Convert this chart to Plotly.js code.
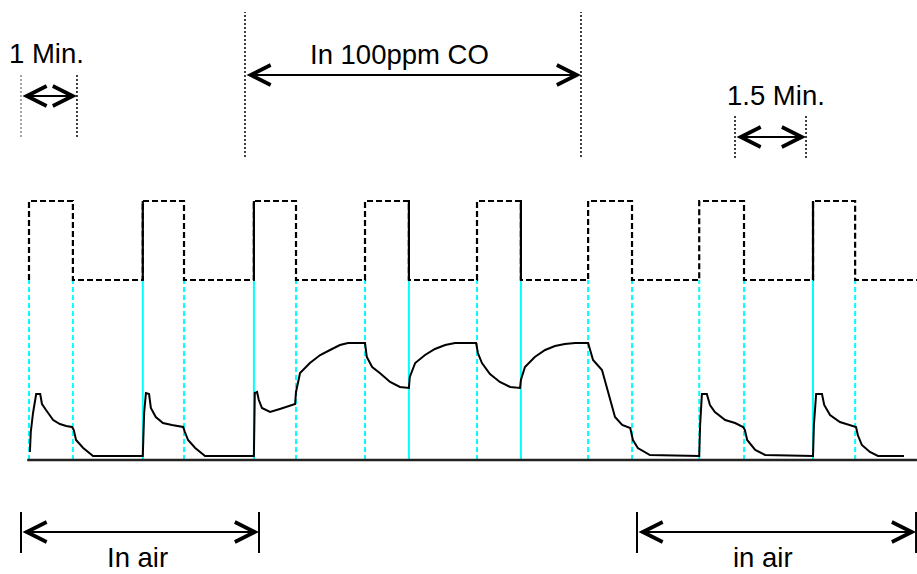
<!DOCTYPE html>
<html>
<head>
<meta charset="utf-8">
<script src="https://cdn.plot.ly/plotly-3.0.1.min.js"></script>
<style>html,body{margin:0;padding:0;background:#fff}#chart{width:917px;height:574px}</style>
</head>
<body>
<div id="chart"></div>
<script>
// Time in minutes, signals in arbitrary units
var heaterHigh = 2.59;
var heaterLow = 1.80;
var riseT = [0, 2.54, 5.02, 7.5, 10.0, 12.48, 14.96, 17.5];
var fallT = [0.98, 3.46, 5.96, 8.48, 10.98, 13.46, 15.96, 18.44];
var endT = 19.82;
var solidEdgeT = [2.54, 5.02, 8.48, 10.98, 17.5];

var sensorT = [0.02,0.04,0.09,0.16,0.25,0.29,0.38,0.54,0.69,0.83,0.96,1.00,1.05,1.21,1.43,2.54,
  2.57,2.61,2.68,2.72,2.83,2.99,3.19,3.44,3.48,3.55,3.71,3.93,5.02,
  5.04,5.09,5.13,5.20,5.38,5.60,5.94,5.96,6.05,6.27,6.50,6.72,6.94,7.12,7.50,
  7.54,7.66,7.83,8.06,8.28,8.48,8.50,8.62,8.84,9.06,9.29,9.51,9.98,
  10.02,10.11,10.29,10.51,10.74,10.96,10.98,11.07,11.29,11.52,11.74,11.96,12.19,12.48,
  12.59,12.79,12.90,12.97,13.08,13.24,13.42,13.48,13.59,13.86,14.96,
  14.98,15.02,15.13,15.20,15.31,15.54,15.76,15.94,15.98,16.03,16.21,16.43,17.50,
  17.52,17.57,17.70,17.75,17.88,18.10,18.33,18.46,18.50,18.59,18.77,18.95,19.53];
var sensorV = [0.08,0.28,0.47,0.66,0.66,0.56,0.50,0.40,0.36,0.34,0.33,0.30,0.20,0.12,0.04,0.04,
  0.47,0.67,0.66,0.52,0.43,0.37,0.35,0.33,0.28,0.20,0.12,0.04,0.04,
  0.67,0.68,0.60,0.52,0.48,0.51,0.56,0.68,0.87,0.97,1.05,1.10,1.15,1.17,1.17,
  1.03,0.93,0.87,0.78,0.73,0.72,0.83,0.97,1.05,1.11,1.15,1.17,1.17,
  1.07,0.97,0.86,0.78,0.73,0.72,0.80,0.93,1.03,1.10,1.14,1.16,1.17,1.17,
  1.00,0.90,0.73,0.60,0.43,0.35,0.32,0.20,0.12,0.05,0.04,
  0.35,0.66,0.66,0.55,0.48,0.40,0.37,0.33,0.30,0.20,0.10,0.05,0.04,
  0.35,0.66,0.66,0.55,0.45,0.38,0.35,0.33,0.25,0.15,0.08,0.04,0.04];

// build heater square wave from edges
var hx = [], hy = [];
for (var i = 0; i < riseT.length; i++) {
  hx.push(riseT[i], riseT[i], fallT[i], fallT[i]);
  hy.push(heaterLow, heaterHigh, heaterHigh, heaterLow);
}
hx.push(endT); hy.push(heaterLow);

// solid heater edges overlay
var sx = [], sy = [];
solidEdgeT.forEach(function(t){ sx.push(t, t, null); sy.push(heaterLow, heaterHigh, null); });

// cyan markers at every edge
var allEdges = riseT.concat(fallT).sort(function(a,b){return a-b;});
var cdx = [], cdy = [], csx = [], csy = [];
allEdges.forEach(function(t){
  if (solidEdgeT.indexOf(t) >= 0) { csx.push(t, t, null); csy.push(0, heaterLow, null); }
  else { cdx.push(t, t, null); cdy.push(0, heaterLow, null); }
});

var traces = [
  {x: cdx, y: cdy, mode: 'lines', line: {color: '#00ffff', width: 2, dash: '5px,3px'}, hoverinfo: 'skip'},
  {x: csx, y: csy, mode: 'lines', line: {color: '#00ffff', width: 2}, hoverinfo: 'skip'},
  {x: sensorT, y: sensorV, mode: 'lines', line: {color: '#000', width: 2}, hoverinfo: 'skip'},
  {x: hx, y: hy, mode: 'lines', line: {color: '#000', width: 2.2, dash: '6px,3px'}, hoverinfo: 'skip'},
  {x: sx, y: sy, mode: 'lines', line: {color: '#000', width: 2.2}, hoverinfo: 'skip'}
];

var font = {family: 'Liberation Sans, Arial, sans-serif', size: 27.5, color: '#000'};
function label(text, x, y) {
  return {text: text, x: x, y: y, xref: 'x', yref: 'y', showarrow: false, font: font, xanchor: 'center', yanchor: 'middle'};
}
function dbl(x0, x1, y) {
  return {text: '', x: x1, y: y, ax: x0, ay: y, xref: 'x', yref: 'y', axref: 'x', ayref: 'y',
    showarrow: true, arrowside: 'end+start', arrowhead: 5, startarrowhead: 5,
    arrowsize: 1.95, startarrowsize: 1.95, arrowwidth: 2, arrowcolor: '#000', standoff: 0, startstandoff: 0};
}
function vline(x, y0, y1, color, dash) {
  return {type: 'line', xref: 'x', yref: 'y', x0: x, x1: x, y0: y0, y1: y1,
    line: {color: color, width: dash ? 1.5 : 2, dash: dash || 'solid'}};
}

var layout = {
  width: 917, height: 574,
  margin: {l: 0, r: 0, t: 0, b: 0, pad: 0},
  paper_bgcolor: '#fff', plot_bgcolor: '#fff',
  showlegend: false,
  xaxis: {range: [-0.6473, 19.821], visible: false, fixedrange: true},
  yaxis: {range: [-1.14, 4.60], visible: false, fixedrange: true},
  shapes: [
    {type: 'line', xref: 'x', yref: 'y', x0: -0.04, x1: endT, y0: 0, y1: 0, line: {color: '#222', width: 2.5}},
    vline(-0.179, 3.23, 3.86, '#888', '2px,2px'),
    vline(1.071, 3.23, 3.86, '#000', '2px,2px'),
    vline(4.821, 3.03, 4.48, '#000', '2px,2px'),
    vline(12.321, 3.03, 4.48, '#000', '2px,2px'),
    vline(15.759, 3.02, 3.44, '#000', '2px,2px'),
    vline(17.344, 3.02, 3.44, '#000', '2px,2px'),
    vline(-0.179, -0.93, -0.52, '#000'),
    vline(5.134, -0.93, -0.52, '#000'),
    vline(13.571, -0.93, -0.52, '#000'),
    vline(19.80, -0.93, -0.52, '#000')
  ],
  annotations: [
    label('1 Min.', 0.38, 4.065),
    label('In 100ppm CO', 8.28, 4.055),
    label('1.5 Min.', 16.67, 3.645),
    label('In air', 2.42, -0.975),
    label('in air', 16.38, -0.975),
    dbl(-0.179, 1.071, 3.64),
    dbl(4.821, 12.321, 3.85),
    dbl(15.759, 17.344, 3.23),
    dbl(-0.179, 5.134, -0.72),
    dbl(13.571, 19.80, -0.72)
  ]
};

Plotly.newPlot('chart', traces, layout, {staticPlot: true, displayModeBar: false});
</script>
</body>
</html>
